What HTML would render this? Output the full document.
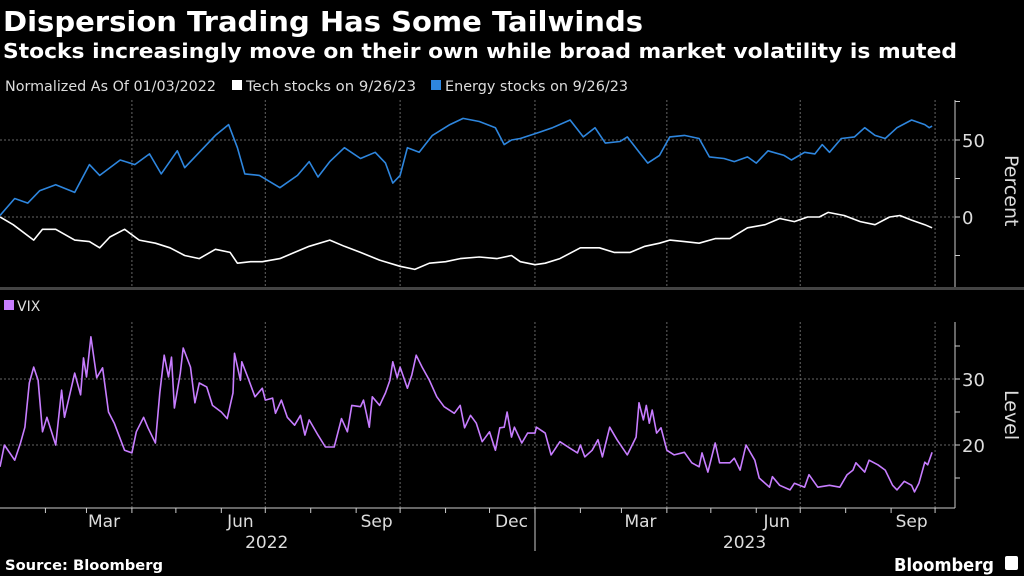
<!DOCTYPE html>
<html><head><meta charset="utf-8"><style>
body{margin:0;background:#000;width:1024px;height:576px;overflow:hidden;font-family:"Liberation Sans",sans-serif;color:#fff}
</style></head><body>
<svg id="c" width="1024" height="576" xmlns="http://www.w3.org/2000/svg" style="position:absolute;left:0;top:0;font-family:'DejaVu Sans','Liberation Sans',sans-serif">
<text x="3" y="31" font-size="28" font-weight="bold" fill="#fff" textLength="640" lengthAdjust="spacingAndGlyphs">Dispersion Trading Has Some Tailwinds</text>
<text x="3" y="58" font-size="20" font-weight="bold" fill="#fff" textLength="954" lengthAdjust="spacingAndGlyphs">Stocks increasingly move on their own while broad market volatility is muted</text>
<g font-size="14" fill="#ddd">
<text x="5" y="91" textLength="211" lengthAdjust="spacingAndGlyphs">Normalized As Of 01/03/2022</text>
<rect x="232" y="80" width="10" height="10" fill="#fff"/>
<text x="246" y="91" textLength="170" lengthAdjust="spacingAndGlyphs">Tech stocks on 9/26/23</text>
<rect x="431" y="80" width="10" height="10" fill="#2e86de"/>
<text x="445" y="91" textLength="183" lengthAdjust="spacingAndGlyphs">Energy stocks on 9/26/23</text>
</g>
<rect x="4" y="300" width="10" height="10" fill="#c77dff"/>
<text x="17" y="311" font-size="14" fill="#ddd">VIX</text>
<rect x="0" y="287" width="1024" height="3" fill="#444"/>
<g id="grid"></g>
<g id="axes"></g>
<g id="series"></g>
<text x="0" y="0" font-size="19" fill="#ddd" transform="translate(1005,155) rotate(90)">Percent</text>
<text x="0" y="0" font-size="19" fill="#ddd" transform="translate(1005,390) rotate(90)">Level</text>
<text x="5" y="570" font-size="14" font-weight="bold" fill="#fff" textLength="158" lengthAdjust="spacingAndGlyphs">Source: Bloomberg</text>
<text x="894" y="571" font-size="18" font-weight="bold" fill="#fff" textLength="100" lengthAdjust="spacingAndGlyphs">Bloomberg</text>
<rect x="1005" y="556" width="13" height="14" rx="2" fill="#fff"/>
</svg>
<script>
const energyDays=[0,10,19,27,38,51,61,68,82,92,102,110,121,126,136,147,156,162,167,177,191,203,211,217,225,235,246,256,263,268,273,278,286,295,307,316,327,338,344,349,355,368,377,389,398,406,413,423,428,437,442,450,457,467,477,484,494,501,510,516,524,535,540,549,556,561,566,574,583,590,597,604,612,622,631,634,636];
const energyVals=[1,12,9,17,21,16,34,27,37,34,41,28,43,32,42,53,60,45,28,27,19,27,36,26,36,45,38,42,35,22,27,45,42,53,60,64,62,58,47,50,51,55,58,63,52,58,48,49,52,41,35,40,52,53,51,39,38,36,39,35,43,40,37,42,41,47,42,51,52,58,53,51,58,63,60,58,59];
const techDays=[0,9,23,29,38,51,61,68,75,85,95,106,116,126,136,147,157,162,171,179,191,201,211,225,235,246,259,273,283,293,304,314,327,339,349,355,365,372,382,396,409,419,430,440,450,457,467,477,488,498,510,522,532,542,551,559,565,576,587,597,607,614,622,631,636];
const techVals=[0,-5,-15,-8,-8,-15,-16,-20,-13,-8,-15,-17,-20,-25,-27,-21,-23,-30,-29,-29,-27,-23,-19,-15,-19,-23,-28,-32,-34,-30,-29,-27,-26,-27,-25,-29,-31,-30,-27,-20,-20,-23,-23,-19,-17,-15,-16,-17,-14,-14,-7,-5,-1,-3,0,0,3,1,-3,-5,0,1,-2,-5,-7];
const vixDays=[0,3,10,14,17,20,23,26,29,32,38,42,44,48,51,55,57,59,62,66,70,74,78,85,90,93,98,101,106,109,112,115,117,119,123,125,130,133,136,141,145,151,155,159,160,164,165,169,174,179,181,186,188,192,196,201,205,208,211,217,222,228,233,237,240,246,248,252,254,259,263,266,268,271,273,278,281,284,288,293,298,303,310,314,317,321,325,329,334,338,341,344,346,349,351,356,360,365,366,372,376,382,389,394,396,399,404,408,411,416,421,428,434,436,439,441,443,445,448,451,455,460,467,472,477,479,483,488,491,498,501,505,509,515,518,525,527,532,539,542,549,552,558,566,573,578,582,584,590,593,599,604,609,612,617,622,624,627,631,633,636];
const vixVals=[16.7,20,17.7,20.3,22.7,29.4,31.8,29.8,22,24.2,20,28.3,24.2,28,30.9,27.6,33.2,30.3,36.4,30.2,31.7,25,23.3,19.2,18.8,22,24.2,22.6,20.3,27.9,33.6,30.3,33.3,25.6,30.9,34.7,31.8,26.4,29.4,28.8,26,25,24,27.9,33.9,29.8,32.6,30.3,27.3,28.6,26.8,27.1,24.8,26.8,24.2,23,24.5,21.5,23.8,21.5,19.7,19.7,24,22,26,25.8,26.8,22.7,27.3,26,27.9,29.8,32.6,30.2,31.8,28.6,30.6,33.6,31.8,29.8,27.3,25.8,24.8,26,22.6,24.5,23.3,20.5,22,19.2,22.6,22.7,25,21.2,22.7,20.3,21.8,21.8,22.7,21.8,18.5,20.5,19.5,18.8,20,18.2,19.2,20.8,18.2,22.7,20.8,18.5,21.2,26.4,23.8,26,23.3,25.3,21.8,22.6,19.2,18.5,18.9,17.3,16.7,18.8,15.9,20.3,17.3,17.3,18,16.2,20,17.7,15,13.6,15.2,13.9,13.2,14.2,13.6,15.5,13.6,13.9,13.6,15.5,16.2,17.3,15.9,17.7,17,16.2,13.9,13.2,14.5,13.9,12.9,14.2,17.4,17,18.9];
const topTicks=[50,0];
const botTicks=[30,20];
const monthLabels=["Mar","Jun","Sep","Dec","Mar","Jun","Sep"];
const monthLabelDays=[71,164,257,349,437,530,622];
const yearLabels=["2022","2023"];
const yearLabelDays=[182,508];

const NS="http://www.w3.org/2000/svg";
const xs=d=>d*938/640;
const yTop=v=>217-v*1.54;
const yBot=v=>445-(v-20)*6.6;
function mk(tag,attrs,parent){const e=document.createElementNS(NS,tag);for(const k in attrs)e.setAttribute(k,attrs[k]);document.getElementById(parent).appendChild(e);return e;}
const quarterDays=[90,181,273,365,455,546,638];
quarterDays.forEach(d=>{
 const x=xs(d);
 let g=mk('line',{x1:x,x2:x,y1:100,y2:287,stroke:'#666','stroke-dasharray':'2,2','stroke-width':1},'grid');
 
 
 g=mk('line',{x1:x,x2:x,y1:322,y2:508,stroke:'#666','stroke-dasharray':'2,2','stroke-width':1},'grid');
 
 
});
topTicks.forEach(v=>{
 let g=mk('line',{x1:0,x2:955,y1:yTop(v),y2:yTop(v),stroke:'#666','stroke-dasharray':'2,2'},'grid');
 
 
 let t=mk('text',{x:962,y:yTop(v)+7,'font-size':18,fill:'#ddd'},'axes');t.textContent=v;
 
 
});
[75,25,-25].forEach(v=>{const l=mk('line',{x1:955,x2:960,y1:yTop(v),y2:yTop(v),stroke:'#ccc'},'axes');});
topTicks.forEach(v=>{const l=mk('line',{x1:955,x2:960,y1:yTop(v),y2:yTop(v),stroke:'#ccc'},'axes');});
botTicks.forEach(v=>{
 let g=mk('line',{x1:0,x2:955,y1:yBot(v),y2:yBot(v),stroke:'#666','stroke-dasharray':'2,2'},'grid');
 
 
 let t=mk('text',{x:962,y:yBot(v)+7,'font-size':18,fill:'#ddd'},'axes');t.textContent=v;
 
 
});
[35,30,25,20,15].forEach(v=>{const l=mk('line',{x1:955,x2:960,y1:yBot(v),y2:yBot(v),stroke:'#ccc'},'axes');});
let a=mk('line',{x1:955,x2:955,y1:100,y2:287,stroke:'#ccc'},'axes');
a=mk('line',{x1:955,x2:955,y1:322,y2:508,stroke:'#ccc'},'axes');
a=mk('line',{x1:0,x2:955,y1:508,y2:508,stroke:'#ccc'},'axes');
a=mk('line',{x1:535,x2:535,y1:508,y2:551,stroke:'#ccc'},'axes');
const monthStarts=[31,59,90,120,151,181,212,243,273,304,334,365,396,424,455,485,516,546,577,608,638];
monthStarts.forEach(d=>{const l=mk('line',{x1:xs(d),x2:xs(d),y1:508,y2:513,stroke:'#ccc'},'axes');});
monthLabels.forEach((m,i)=>{const t=mk('text',{x:xs(monthLabelDays[i]),y:527,'font-size':17,fill:'#ddd','text-anchor':'middle'},'axes');t.textContent=m;});
yearLabels.forEach((m,i)=>{const t=mk('text',{x:xs(yearLabelDays[i]),y:548,'font-size':17,fill:'#ddd','text-anchor':'middle'},'axes');t.textContent=m;});
function line(days,vals,ys,color,name){
 const n=Math.min(days.length,vals.length);let d='';
 for(let i=0;i<n;i++)d+=(i?'L':'M')+xs(days[i]).toFixed(1)+','+ys(vals[i]).toFixed(1);
 const p=mk('path',{d:d,fill:'none',stroke:color,'stroke-width':1.6,'stroke-linejoin':'round'},'series');
 
 
}
line(techDays,techVals,yTop,'#ffffff','tech-stocks-line');
line(energyDays,energyVals,yTop,'#2e86de','energy-stocks-line');
line(vixDays,vixVals,yBot,'#c77dff','vix-line');
</script>
</body></html>
